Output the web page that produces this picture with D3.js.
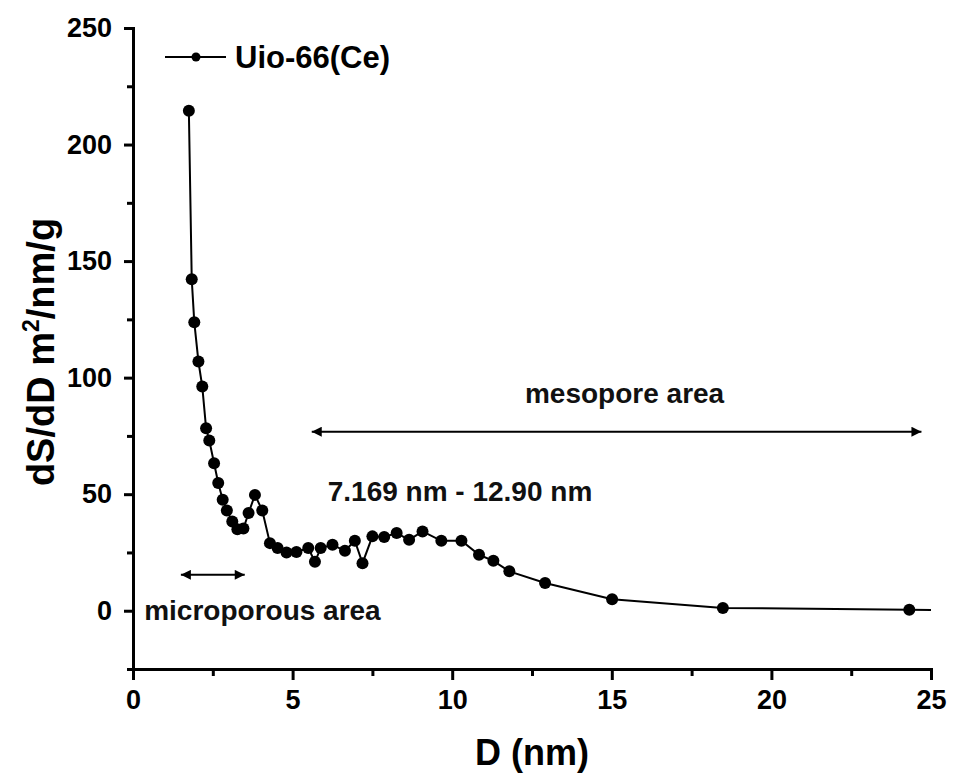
<!doctype html>
<html>
  <head>
    <script src="https://cdn.jsdelivr.net/npm/d3@7/dist/d3.min.js"></script>
    <style>
      body, html {
        margin: 0;
        background: #fff;
      }
      svg {
        font-family: "Liberation Sans", Arial, sans-serif;
        font-weight: bold;
      }
      .axis path, .axis line {
        stroke: #000;
        stroke-width: 3px;
      }
      .axis text {
        font-size: 27px;
        font-weight: bold;
        fill: #000;
      }
      path.series {
        fill: none;
        stroke: #000;
        stroke-width: 2px;
      }
      circle.dot {
        fill: #000;
      }
      line.arrow {
        stroke: #000;
        stroke-width: 2px;
      }
      text.note {
        font-size: 28px;
        fill: #111;
      }
    </style>
  </head>
  <body>
    <svg width="955" height="783"></svg>
    <script>

      // pore diameter (nm) and dS/dD
      var poreD = [1.75, 1.84, 1.92, 2.05, 2.17, 2.29, 2.39, 2.54, 2.67, 2.81,
        2.94, 3.11, 3.27, 3.46, 3.62, 3.82, 4.05, 4.29, 4.53, 4.81,
        5.12, 5.49, 5.70, 5.88, 6.25, 6.64, 6.95, 7.19, 7.50, 7.87,
        8.26, 8.65, 9.07, 9.66, 10.29, 10.84, 11.29, 11.79, 12.91, 15.01,
        18.48, 24.32, 25.6];
      var dSdD = [214.5, 142.2, 123.8, 106.9, 96.2, 78.3, 73.0, 63.3, 54.8, 47.6,
        43.0, 38.3, 35.0, 35.3, 41.9, 49.7, 43.0, 29.0, 26.9, 25.0,
        25.2, 26.9, 21.0, 26.9, 28.3, 25.7, 30.0, 20.4, 31.9, 31.6,
        33.3, 30.4, 34.0, 30.0, 30.0, 24.0, 21.4, 16.9, 11.9, 4.9,
        1.2, 0.4, 0.3];

      var xTicks = [0, 5, 10, 15, 20, 25];
      var xMinor = [2.5, 7.5, 12.5, 17.5, 22.5];
      var yTicks = [0, 50, 100, 150, 200, 250];
      var yMinor = [-25, 25, 75, 125, 175, 225];

      var seriesName = "Uio-66(Ce)";

      var points = poreD.map((d, i) => ({ x: d, y: dSdD[i] }));

      var padL = 133, padR = 931, padT = 28, padB = 669;

      var x = d3.scaleLinear().domain([0, 25]).range([padL, padR]);
      var y = d3.scaleLinear().domain([-25, 250]).range([padB, padT]);

      var svg = d3.select("svg");

      var defs = svg.append("defs");
      defs.append("clipPath").attr("id", "plot")
        .append("rect")
        .attr("x", padL).attr("y", padT)
        .attr("width", padR - padL).attr("height", padB - padT);

      defs.append("marker")
        .attr("id", "head")
        .attr("viewBox", "0 0 10 10")
        .attr("refX", 10).attr("refY", 5)
        .attr("markerWidth", 9).attr("markerHeight", 5)
        .attr("markerUnits", "strokeWidth")
        .attr("orient", "auto-start-reverse")
        .append("path")
        .attr("d", "M0,0 L10,5 L0,10 Z")
        .attr("fill", "#000");

      // axes
      svg.append("g").attr("class", "axis")
        .attr("transform", "translate(0," + padB + ")")
        .call(d3.axisBottom(x).tickValues(xTicks).tickSize(11).tickSizeOuter(0).tickPadding(10));
      svg.append("g").attr("class", "axis")
        .attr("transform", "translate(0," + padB + ")")
        .call(d3.axisBottom(x).tickValues(xMinor).tickSize(7).tickFormat(""))
        .select(".domain").remove();

      svg.append("g").attr("class", "axis")
        .attr("transform", "translate(" + padL + ",0)")
        .call(d3.axisLeft(y).tickValues(yTicks).tickSize(9).tickSizeOuter(0).tickPadding(12));
      svg.append("g").attr("class", "axis")
        .attr("transform", "translate(" + padL + ",0)")
        .call(d3.axisLeft(y).tickValues(yMinor).tickSize(6).tickFormat(""))
        .select(".domain").remove();

      svg.selectAll(".axis .domain").attr("stroke-linecap", "square");

      // axis titles
      svg.append("text")
        .attr("x", (padL + padR) / 2).attr("y", 765)
        .attr("text-anchor", "middle")
        .style("font-size", "36px")
        .text("D (nm)");

      var yt = svg.append("text")
        .attr("transform", "translate(54," + y(111) + ") rotate(-90)")
        .attr("text-anchor", "middle")
        .style("font-size", "38px");
      yt.append("tspan").text("dS/dD m");
      yt.append("tspan").attr("dy", -15).style("font-size", "23px").text("2");
      yt.append("tspan").attr("dy", 15).text("/nm/g");

      // data
      var plot = svg.append("g").attr("clip-path", "url(#plot)");
      var line = d3.line().x(d => x(d.x)).y(d => y(d.y));

      plot.append("path")
        .datum(points)
        .attr("class", "series")
        .attr("d", line);

      plot.selectAll("circle.dot")
        .data(points)
        .enter().append("circle")
        .attr("class", "dot")
        .attr("cx", d => x(d.x))
        .attr("cy", d => y(d.y))
        .attr("r", 6);

      // legend
      svg.append("line")
        .attr("x1", 165).attr("x2", 226).attr("y1", 57).attr("y2", 57)
        .attr("stroke", "#000").attr("stroke-width", 2);
      svg.append("circle")
        .attr("class", "dot").attr("cx", 196).attr("cy", 57).attr("r", 4.5);
      svg.append("text")
        .attr("x", 235).attr("y", 68)
        .style("font-size", "31px")
        .text(seriesName);

      // annotations
      svg.append("line").attr("class", "arrow")
        .attr("x1", x(5.6)).attr("x2", x(24.7))
        .attr("y1", y(76.8)).attr("y2", y(76.8))
        .attr("marker-start", "url(#head)")
        .attr("marker-end", "url(#head)");
      svg.append("text").attr("class", "note")
        .attr("x", x(15.4)).attr("y", y(89))
        .attr("text-anchor", "middle")
        .text("mesopore area");

      svg.append("text").attr("class", "note")
        .attr("x", x(6.1)).attr("y", y(47))
        .text("7.169 nm - 12.90 nm");

      svg.append("line").attr("class", "arrow")
        .attr("x1", x(1.5)).attr("x2", x(3.5))
        .attr("y1", y(15.4)).attr("y2", y(15.4))
        .attr("marker-start", "url(#head)")
        .attr("marker-end", "url(#head)");
      svg.append("text").attr("class", "note")
        .attr("x", x(0.35)).attr("y", y(-4))
        .text("microporous area");

    </script>
  </body>
</html>
